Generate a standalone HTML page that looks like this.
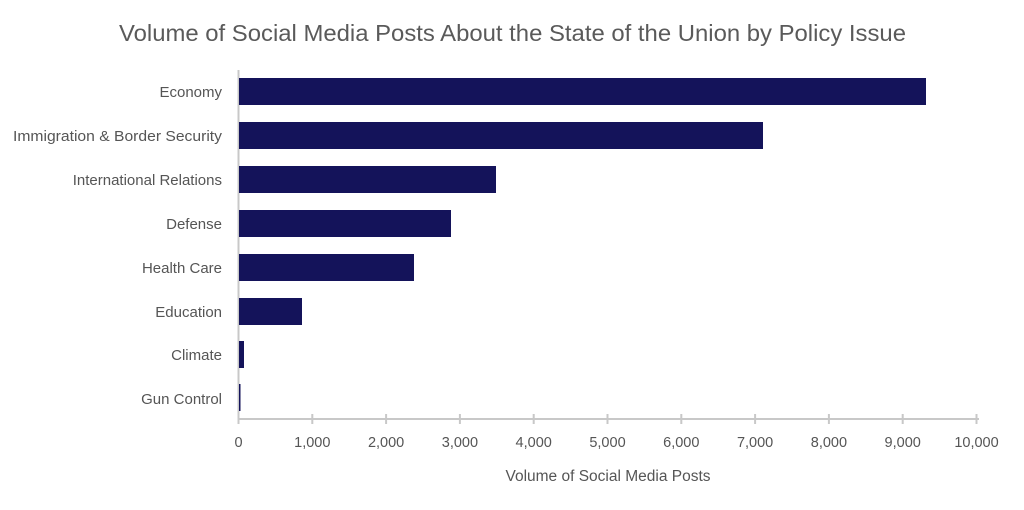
<!DOCTYPE html>
<html><head><meta charset="utf-8"><style>
body{margin:0;background:#fff;}
svg text{font-family:"Liberation Sans",sans-serif;fill:#555;}
</style></head><body>
<svg width="1024" height="505" xmlns="http://www.w3.org/2000/svg">
<text x="119" y="41" font-size="23" textLength="787" lengthAdjust="spacingAndGlyphs" style="fill:#5a5a5a">Volume of Social Media Posts About the State of the Union by Policy Issue</text>
<line x1="238.5" y1="70" x2="238.5" y2="424" stroke="#c8c8c8" stroke-width="2"/>
<line x1="238" y1="419" x2="979" y2="419" stroke="#c8c8c8" stroke-width="2"/>
<g stroke="#c8c8c8" stroke-width="2">
<line x1="312.3" y1="414" x2="312.3" y2="424"/><line x1="386.1" y1="414" x2="386.1" y2="424"/><line x1="459.9" y1="414" x2="459.9" y2="424"/><line x1="533.7" y1="414" x2="533.7" y2="424"/><line x1="607.5" y1="414" x2="607.5" y2="424"/><line x1="681.3" y1="414" x2="681.3" y2="424"/><line x1="755.1" y1="414" x2="755.1" y2="424"/><line x1="828.9" y1="414" x2="828.9" y2="424"/><line x1="902.7" y1="414" x2="902.7" y2="424"/><line x1="976.5" y1="414" x2="976.5" y2="424"/>
</g>
<g font-size="14.5" text-anchor="middle">
<text x="238.5" y="447">0</text><text x="312.3" y="447">1,000</text><text x="386.1" y="447">2,000</text><text x="459.9" y="447">3,000</text><text x="533.7" y="447">4,000</text><text x="607.5" y="447">5,000</text><text x="681.3" y="447">6,000</text><text x="755.1" y="447">7,000</text><text x="828.9" y="447">8,000</text><text x="902.7" y="447">9,000</text><text x="976.5" y="447">10,000</text>
</g>
<text x="608" y="481" text-anchor="middle" font-size="15.5">Volume of Social Media Posts</text>
<g fill="#14135a">
<rect x="239" y="78" width="687" height="27"/>
<rect x="239" y="122" width="524" height="27"/>
<rect x="239" y="166" width="257" height="27"/>
<rect x="239" y="210" width="212" height="27"/>
<rect x="239" y="254" width="175" height="27"/>
<rect x="239" y="298" width="63" height="27"/>
<rect x="239" y="341" width="5" height="27"/>
<rect x="239" y="384" width="1.5" height="27"/>
</g>
<g font-size="15" text-anchor="end">
<text x="222" y="97">Economy</text>
<text x="222" y="141" textLength="209" lengthAdjust="spacingAndGlyphs">Immigration &amp; Border Security</text>
<text x="222" y="185">International Relations</text>
<text x="222" y="229">Defense</text>
<text x="222" y="273">Health Care</text>
<text x="222" y="317">Education</text>
<text x="222" y="360">Climate</text>
<text x="222" y="404">Gun Control</text>
</g>
</svg>
</body></html>
